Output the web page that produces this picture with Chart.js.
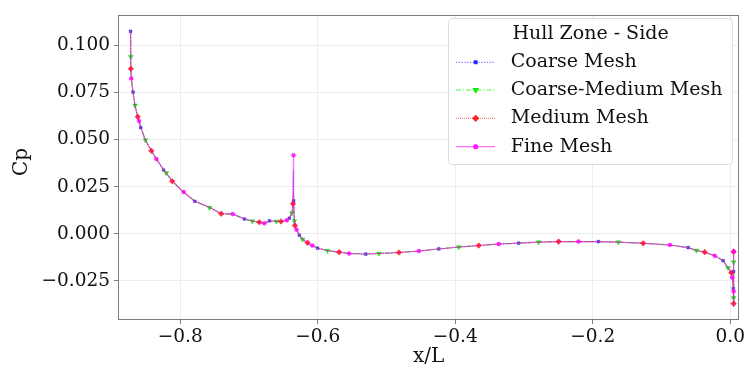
<!DOCTYPE html>
<html>
<head>
<meta charset="utf-8">
<script src="https://cdn.jsdelivr.net/npm/chart.js@4.4.0/dist/chart.umd.min.js"></script>
<style>
  html, body { margin: 0; padding: 0; background: #fff; }
  #wrap { width: 747px; height: 371px; }
</style>
</head>
<body>
<div id="wrap"><canvas id="cp"></canvas></div>
<script>
// x/L stations along the side of the hull
const xs = [
  -0.8722, -0.8720, -0.8718, -0.8712, -0.8686, -0.8657, -0.8618, -0.8599, -0.8574, -0.8506,
  -0.8420, -0.8347, -0.8241, -0.8202, -0.8115, -0.7950, -0.7787, -0.7574, -0.7404, -0.7236,
  -0.7066, -0.6950, -0.6848, -0.6776, -0.6703, -0.6600, -0.6534, -0.6450, -0.6413, -0.6374,
  -0.6360, -0.6352, -0.6350, -0.6340, -0.6331, -0.6307, -0.6268, -0.6220, -0.6148, -0.6080,
  -0.6003, -0.5858, -0.5688, -0.5543, -0.5301, -0.5108, -0.4818, -0.4528, -0.4238, -0.3948,
  -0.3658, -0.3368, -0.3077, -0.2787, -0.2497, -0.2207, -0.1917, -0.1627, -0.1265, -0.0877,
  -0.0612, -0.0492, -0.0370, -0.0225, -0.0104, -0.0032, 0.0016, 0.0030, 0.0045, 0.0050,
  0.0050, 0.0050, 0.0050, 0.0050, 0.0050, 0.0050
];

const cpCoarse = [
  0.1075, 0.0944, 0.0878, 0.0826, 0.0752, 0.0680, 0.0620, 0.0598, 0.0564, 0.0496,
  0.0440, 0.0396, 0.0339, 0.0322, 0.0278, 0.0220, 0.0173, 0.0140, 0.0107, 0.0105,
  0.0079, 0.0068, 0.0062, 0.0055, 0.0069, 0.0067, 0.0066, 0.0072, 0.0083, 0.0114,
  0.0200, 0.0336, 0.0175, 0.0070, 0.0045, 0.0022, -0.0007, -0.0028, -0.0047, -0.0062,
  -0.0076, -0.0088, -0.0097, -0.0104, -0.0107, -0.0104, -0.0099, -0.0091, -0.0080, -0.0070,
  -0.0062, -0.0054, -0.0049, -0.0044, -0.0041, -0.0041, -0.0041, -0.0044, -0.0050, -0.0059,
  -0.0073, -0.0088, -0.0097, -0.0116, -0.0142, -0.0180, -0.0206, -0.0232, -0.0290, -0.0345,
  -0.0387, -0.0300, -0.0200, -0.0140, -0.0100, -0.0080
];

const cpCoarseMedium = [
  0.1078, 0.0940, 0.0878, 0.0830, 0.0745, 0.0682, 0.0622, 0.0600, 0.0566, 0.0498,
  0.0442, 0.0398, 0.0341, 0.0323, 0.0280, 0.0221, 0.0174, 0.0139, 0.0108, 0.0104,
  0.0078, 0.0067, 0.0061, 0.0056, 0.0068, 0.0066, 0.0065, 0.0070, 0.0082, 0.0110,
  0.0150, 0.0185, 0.0150, 0.0068, 0.0043, 0.0020, -0.0008, -0.0029, -0.0048, -0.0063,
  -0.0077, -0.0089, -0.0098, -0.0104, -0.0107, -0.0104, -0.0099, -0.0091, -0.0080, -0.0070,
  -0.0062, -0.0054, -0.0049, -0.0044, -0.0041, -0.0041, -0.0041, -0.0044, -0.0050, -0.0059,
  -0.0073, -0.0088, -0.0097, -0.0116, -0.0142, -0.0180, -0.0206, -0.0232, -0.0285, -0.0340,
  -0.0380, -0.0300, -0.0210, -0.0150, -0.0110, -0.0085
];

const cpMedium = [
  0.1080, 0.0942, 0.0876, 0.0824, 0.0750, 0.0679, 0.0621, 0.0599, 0.0565, 0.0497,
  0.0441, 0.0397, 0.0340, 0.0322, 0.0279, 0.0221, 0.0173, 0.0140, 0.0107, 0.0104,
  0.0079, 0.0067, 0.0062, 0.0056, 0.0068, 0.0066, 0.0066, 0.0071, 0.0083, 0.0112,
  0.0160, 0.0220, 0.0175, 0.0069, 0.0044, 0.0021, -0.0007, -0.0028, -0.0047, -0.0062,
  -0.0076, -0.0088, -0.0097, -0.0104, -0.0107, -0.0104, -0.0099, -0.0091, -0.0080, -0.0070,
  -0.0062, -0.0054, -0.0049, -0.0044, -0.0041, -0.0041, -0.0041, -0.0044, -0.0050, -0.0059,
  -0.0073, -0.0088, -0.0097, -0.0116, -0.0142, -0.0180, -0.0206, -0.0232, -0.0288, -0.0342,
  -0.0370, -0.0310, -0.0215, -0.0145, -0.0095, -0.0076
];

const cpFine = [
  0.1083, 0.0944, 0.0877, 0.0825, 0.0751, 0.0680, 0.0621, 0.0599, 0.0565, 0.0497,
  0.0442, 0.0398, 0.0341, 0.0323, 0.0280, 0.0222, 0.0174, 0.0141, 0.0108, 0.0105,
  0.0080, 0.0068, 0.0063, 0.0056, 0.0069, 0.0067, 0.0067, 0.0072, 0.0084, 0.0115,
  0.0250, 0.0417, 0.0180, 0.0071, 0.0045, 0.0022, -0.0007, -0.0028, -0.0047, -0.0062,
  -0.0076, -0.0088, -0.0097, -0.0104, -0.0107, -0.0104, -0.0099, -0.0091, -0.0080, -0.0070,
  -0.0062, -0.0054, -0.0049, -0.0044, -0.0041, -0.0041, -0.0041, -0.0044, -0.0050, -0.0059,
  -0.0073, -0.0088, -0.0097, -0.0116, -0.0142, -0.0180, -0.0206, -0.0232, -0.0290, -0.0345,
  -0.0385, -0.0305, -0.0205, -0.0130, -0.0105, -0.0093
];

const seriesNames = ["Coarse Mesh", "Coarse-Medium Mesh", "Medium Mesh", "Fine Mesh"];
const xTicks = [-0.8, -0.6, -0.4, -0.2, 0.0];
const xTickLabels = ["\u22120.8", "\u22120.6", "\u22120.4", "\u22120.2", "0.0"];
const yTicks = [-0.025, 0.0, 0.025, 0.05, 0.075, 0.1];
const yTickLabels = ["\u22120.025", "0.000", "0.025", "0.050", "0.075", "0.100"];
const legendTitle = "Hull Zone - Side";

const FONT = "'DejaVu Serif', serif";
const INK = "#111";

const toPoints = (ys) => xs.map((x, i) => ({ x: x, y: ys[i] }));

// matplotlib-like "markevery": each series shows markers at a different offset
const markEvery = (offset, r) => (ctx) => (ctx.dataIndex % 4 === offset ? r : 0);

const styles = [
  { color: "rgba(0,0,255,0.55)", mk: "rgba(0,0,255,0.75)", dash: [1.2, 1.6], style: "rect", r: 1.9, off: 0 },
  { color: "rgba(0,255,0,0.75)", mk: "rgba(0,230,0,0.85)", dash: [5, 2, 1.2, 2], style: "triangle", r: 2.8, off: 1 },
  { color: "rgba(255,0,0,0.5)", mk: "rgba(255,0,0,0.8)", dash: [1, 1], style: "rectRot", r: 2.8, off: 2 },
  { color: "rgba(255,0,255,0.55)", mk: "rgba(255,0,255,0.8)", dash: [], style: "circle", r: 2, off: 3 },
];

const seriesData = [cpCoarse, cpCoarseMedium, cpMedium, cpFine];

const datasets = seriesData.map((ys, k) => ({
  label: seriesNames[k],
  data: toPoints(ys),
  showLine: true,
  borderColor: styles[k].color,
  borderWidth: 1.1,
  borderDash: styles[k].dash,
  pointStyle: styles[k].style,
  pointRotation: k === 1 ? 180 : 0,
  pointRadius: markEvery(styles[k].off, styles[k].r),
  pointBackgroundColor: styles[k].mk,
  pointBorderColor: styles[k].mk,
  pointBorderWidth: 0.5,
  pointHoverRadius: 0,
  order: 4 - k,
}));

// frame, axis titles and a matplotlib-style legend box
const decorations = {
  id: "decorations",
  afterDraw(chart) {
    const { ctx, chartArea: a } = chart;
    ctx.save();
    ctx.strokeStyle = "#7f7f7f";
    ctx.lineWidth = 1;
    ctx.strokeRect(Math.round(a.left) + 0.5, Math.round(a.top) + 0.5,
      Math.round(a.right - a.left) - 1, Math.round(a.bottom - a.top) - 1);

    ctx.fillStyle = INK;
    ctx.font = "20px " + FONT;
    ctx.textAlign = "center";
    ctx.textBaseline = "middle";
    ctx.fillText("x/L", (a.left + a.right) / 2, 357);
    ctx.save();
    ctx.translate(22, 162);
    ctx.rotate(-Math.PI / 2);
    ctx.fillText("Cp", 0, 0);
    ctx.restore();

    // legend
    const bx = 448.5, by = 18.5, bw = 284, bh = 146;
    ctx.fillStyle = "rgba(255,255,255,0.85)";
    ctx.strokeStyle = "#dcdcdc";
    ctx.beginPath();
    ctx.roundRect(bx, by, bw, bh, 4);
    ctx.fill();
    ctx.stroke();

    ctx.fillStyle = INK;
    ctx.font = "19px " + FONT;
    ctx.textAlign = "left";
    ctx.fillText(legendTitle, 512.5, 34);
    const rows = [62.3, 90, 118.3, 146.7];
    rows.forEach((ry, k) => {
      const s = styles[k];
      ctx.strokeStyle = s.color;
      ctx.lineWidth = 1.2;
      ctx.setLineDash(s.dash);
      ctx.beginPath();
      ctx.moveTo(456, ry);
      ctx.lineTo(495, ry);
      ctx.stroke();
      ctx.setLineDash([]);
      ctx.fillStyle = s.mk;
      ctx.strokeStyle = s.mk;
      Chart.helpers.drawPoint(ctx, {
        pointStyle: s.style, radius: s.r, rotation: k === 1 ? 180 : 0, borderWidth: 0.5
      }, 475.7, ry);
      ctx.fillStyle = INK;
      ctx.fillText(seriesNames[k], 510.7, ry);
    });
    ctx.restore();
  }
};

new Chart(document.getElementById("cp"), {
  type: "scatter",
  data: { datasets },
  options: {
    responsive: true,
    maintainAspectRatio: false,
    animation: false,
    layout: { padding: { top: 8, right: 6, left: 0, bottom: 0 } },
    plugins: {
      legend: { display: false },
      tooltip: { enabled: false },
    },
    scales: {
      x: {
        type: "linear",
        min: -0.8905,
        max: 0.013,
        afterBuildTicks: (s) => { s.ticks = xTicks.map((v) => ({ value: v })); },
        afterFit: (s) => { s.height = 51; },
        grid: { color: "#ececec", tickColor: "#7f7f7f", tickLength: 4 },
        border: { display: false },
        ticks: {
          font: { family: FONT, size: 18.5 },
          color: INK,
          padding: 2,
          maxRotation: 0,
          callback: (v) => xTickLabels[xTicks.findIndex((t) => Math.abs(t - v) < 1e-9)],
        },
      },
      y: {
        type: "linear",
        min: -0.0457,
        max: 0.1161,
        afterBuildTicks: (s) => { s.ticks = yTicks.map((v) => ({ value: v })); },
        afterFit: (s) => { s.width = 118; },
        grid: { color: "#ececec", tickColor: "#7f7f7f", tickLength: 4 },
        border: { display: false },
        ticks: {
          font: { family: FONT, size: 18.5 },
          color: INK,
          padding: 4,
          callback: (v) => yTickLabels[yTicks.findIndex((t) => Math.abs(t - v) < 1e-9)],
        },
      },
    },
  },
  plugins: [decorations],
});
</script>
</body>
</html>
